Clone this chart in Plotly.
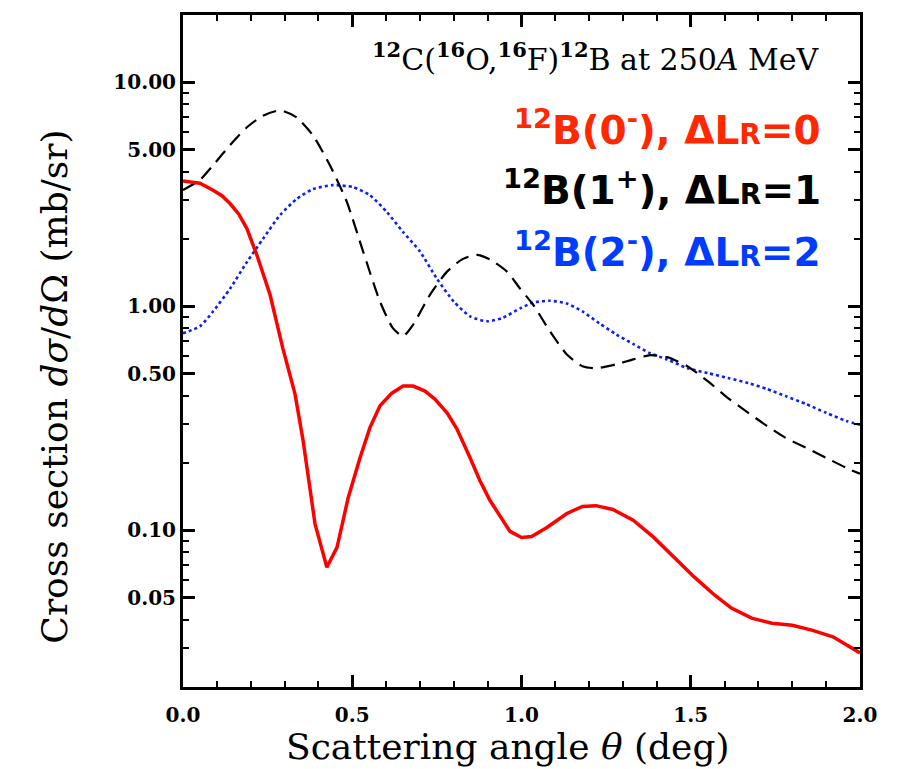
import plotly.graph_objects as go

# ---- data ----
theta_0 = [0, 0.05, 0.089, 0.115, 0.139, 0.165, 0.189, 0.218, 0.257, 0.295, 0.331, 0.355, 0.39, 0.425, 0.455, 0.488,
           0.523, 0.552, 0.582, 0.617, 0.65, 0.68, 0.715, 0.744, 0.78, 0.809, 0.848, 0.877, 0.907, 0.936,
           0.966, 1.0, 1.03, 1.075, 1.134, 1.18, 1.22, 1.27, 1.33, 1.39, 1.45, 1.51, 1.57, 1.62, 1.68,
           1.74, 1.80, 1.86, 1.92, 1.97, 2.0]
xs_0 = [3.63, 3.55, 3.3, 3.12, 2.88, 2.58, 2.22, 1.70, 1.13, 0.65, 0.406, 0.251, 0.107, 0.0685, 0.084, 0.14,
        0.211, 0.287, 0.36, 0.41, 0.441, 0.441, 0.419, 0.386, 0.335, 0.284, 0.211, 0.167, 0.136, 0.116,
        0.099, 0.093, 0.094, 0.103, 0.119, 0.128, 0.129, 0.124, 0.111, 0.0933, 0.076, 0.062, 0.0515, 0.045,
        0.0406, 0.0385, 0.0377, 0.0358, 0.0335, 0.0302, 0.0284]

theta_1 = [0, 0.05, 0.089, 0.139, 0.189, 0.236, 0.287, 0.336, 0.384, 0.434, 0.484, 0.532, 0.582, 0.62,
           0.65, 0.68, 0.73, 0.78, 0.827, 0.868, 0.907, 0.957, 0.996, 1.034, 1.084, 1.134, 1.18, 1.22,
           1.28, 1.33, 1.38, 1.43, 1.49, 1.55, 1.61, 1.67, 1.725, 1.78, 1.84, 1.90, 1.96, 2.0]
xs_1 = [3.31, 3.67, 4.27, 5.25, 6.31, 7.1, 7.5, 6.98, 5.8, 4.27, 2.93, 1.76, 1.05, 0.8,
        0.736, 0.83, 1.13, 1.43, 1.63, 1.70, 1.62, 1.43, 1.2, 1.02, 0.774, 0.61, 0.541, 0.53,
        0.552, 0.58, 0.606, 0.594, 0.541, 0.464, 0.39, 0.335, 0.293, 0.259, 0.234, 0.211, 0.19, 0.179]

theta_2 = [0, 0.05, 0.089, 0.139, 0.189, 0.236, 0.287, 0.336, 0.384, 0.443, 0.502, 0.552, 0.602, 0.65,
           0.70, 0.75, 0.80, 0.848, 0.898, 0.945, 0.996, 1.034, 1.084, 1.134, 1.18, 1.23, 1.28, 1.33,
           1.38, 1.43, 1.49, 1.55, 1.61, 1.67, 1.725, 1.78, 1.84, 1.90, 1.96, 2.0]
xs_2 = [0.759, 0.815, 0.95, 1.2, 1.58, 2.0, 2.56, 3.02, 3.34, 3.48, 3.41, 3.14, 2.64, 2.15,
        1.76, 1.33, 1.05, 0.903, 0.858, 0.89, 0.98, 1.04, 1.06, 1.03, 0.95, 0.84, 0.75, 0.68,
        0.618, 0.58, 0.53, 0.504, 0.479, 0.455, 0.428, 0.398, 0.367, 0.335, 0.308, 0.296]

y_tickvals = [0.05, 0.1, 0.5, 1, 5, 10]
y_ticktext = ["0.05", "0.10", "0.50", "1.00", "5.00", "10.00"]
y_minor = [0.02, 0.03, 0.04, 0.06, 0.07, 0.08, 0.09, 0.2, 0.3, 0.4, 0.6, 0.7, 0.8, 0.9,
           2, 3, 4, 6, 7, 8, 9, 20]
x_tickvals = [0.0, 0.5, 1.0, 1.5, 2.0]
x_ticktext = ["0.0", "0.5", "1.0", "1.5", "2.0"]

RED_T = "rgb(255,40,0)"
BLUE_T = "rgb(0,60,255)"

fig = go.Figure()
fig.add_trace(go.Scatter(x=theta_2, y=xs_2, mode="lines", line=dict(color="rgb(10,30,255)", width=2.6, dash="dot", shape="spline", smoothing=0.6)))
fig.add_trace(go.Scatter(x=theta_1, y=xs_1, mode="lines", line=dict(color="black", width=2.2, dash="14px,8px", shape="spline", smoothing=0.6)))
fig.add_trace(go.Scatter(x=theta_0, y=xs_0, mode="lines", line=dict(color="rgb(255,0,0)", width=3.5)))

tickfont = dict(family="DejaVu Serif", size=20, color="black", weight="bold")

fig.update_xaxes(range=[0, 2], tickvals=x_tickvals, ticktext=x_ticktext, ticks="inside", ticklen=12,
                 tickwidth=2.5, tickcolor="black", showline=True, linewidth=3, linecolor="black",
                 mirror="allticks", showgrid=False, zeroline=False, tickfont=tickfont, ticklabelstandoff=8,
                 minor=dict(dtick=0.1, tick0=0, ticks="inside", ticklen=6, tickwidth=2, tickcolor="black", showgrid=False))
fig.update_yaxes(type="log", range=[-1.699, 1.301], tickvals=y_tickvals, ticktext=y_ticktext, ticks="inside",
                 ticklen=12, tickwidth=2.5, tickcolor="black", showline=True, linewidth=3, linecolor="black",
                 mirror="allticks", showgrid=False, zeroline=False, tickfont=tickfont,
                 minor=dict(tickvals=y_minor, ticks="inside", ticklen=6, tickwidth=2, tickcolor="black", showgrid=False))

leg_font = dict(family="DejaVu Sans", size=39, weight="bold")
annotations = [
    dict(text="<b><sup>12</sup></b>C(<b><sup>16</sup></b>O,<b><sup>16</sup></b>F)<b><sup>12</sup></b>B at 250<i>A</i> MeV",
         x=0.944, y=0.937, xanchor="right", yanchor="middle", font=dict(family="DejaVu Serif", size=30, color="black")),
    dict(text="<sup>12</sup>B(0<sup>-</sup>), ΔL<span style='font-size:28px'>R</span>=0",
         x=0.946, y=0.832, xanchor="right", yanchor="middle", font=dict(leg_font, color=RED_T)),
    dict(text="<sup>12</sup>B(1<sup>+</sup>), ΔL<span style='font-size:28px'>R</span>=1",
         x=0.946, y=0.743, xanchor="right", yanchor="middle", font=dict(leg_font, color="black")),
    dict(text="<sup>12</sup>B(2<sup>-</sup>), ΔL<span style='font-size:28px'>R</span>=2",
         x=0.946, y=0.650, xanchor="right", yanchor="middle", font=dict(leg_font, color=BLUE_T)),
    dict(text="Cross section <i>dσ</i>/<i>d</i>Ω (mb/sr)", textangle=-90,
         x=-0.189, y=0.447, xanchor="center", yanchor="middle", font=dict(family="DejaVu Serif", size=36, color="black")),
    dict(text="Scattering angle <i>θ</i> (deg)",
         x=0.48, y=-0.088, xanchor="center", yanchor="middle", font=dict(family="DejaVu Serif", size=36, color="black")),
]
for a in annotations:
    a.update(xref="paper", yref="paper", showarrow=False)

fig.update_layout(width=900, height=769, margin=dict(l=183, r=40, t=12, b=82),
                  plot_bgcolor="white", paper_bgcolor="white", showlegend=False,
                  annotations=annotations)

fig.write_html("out.html")
